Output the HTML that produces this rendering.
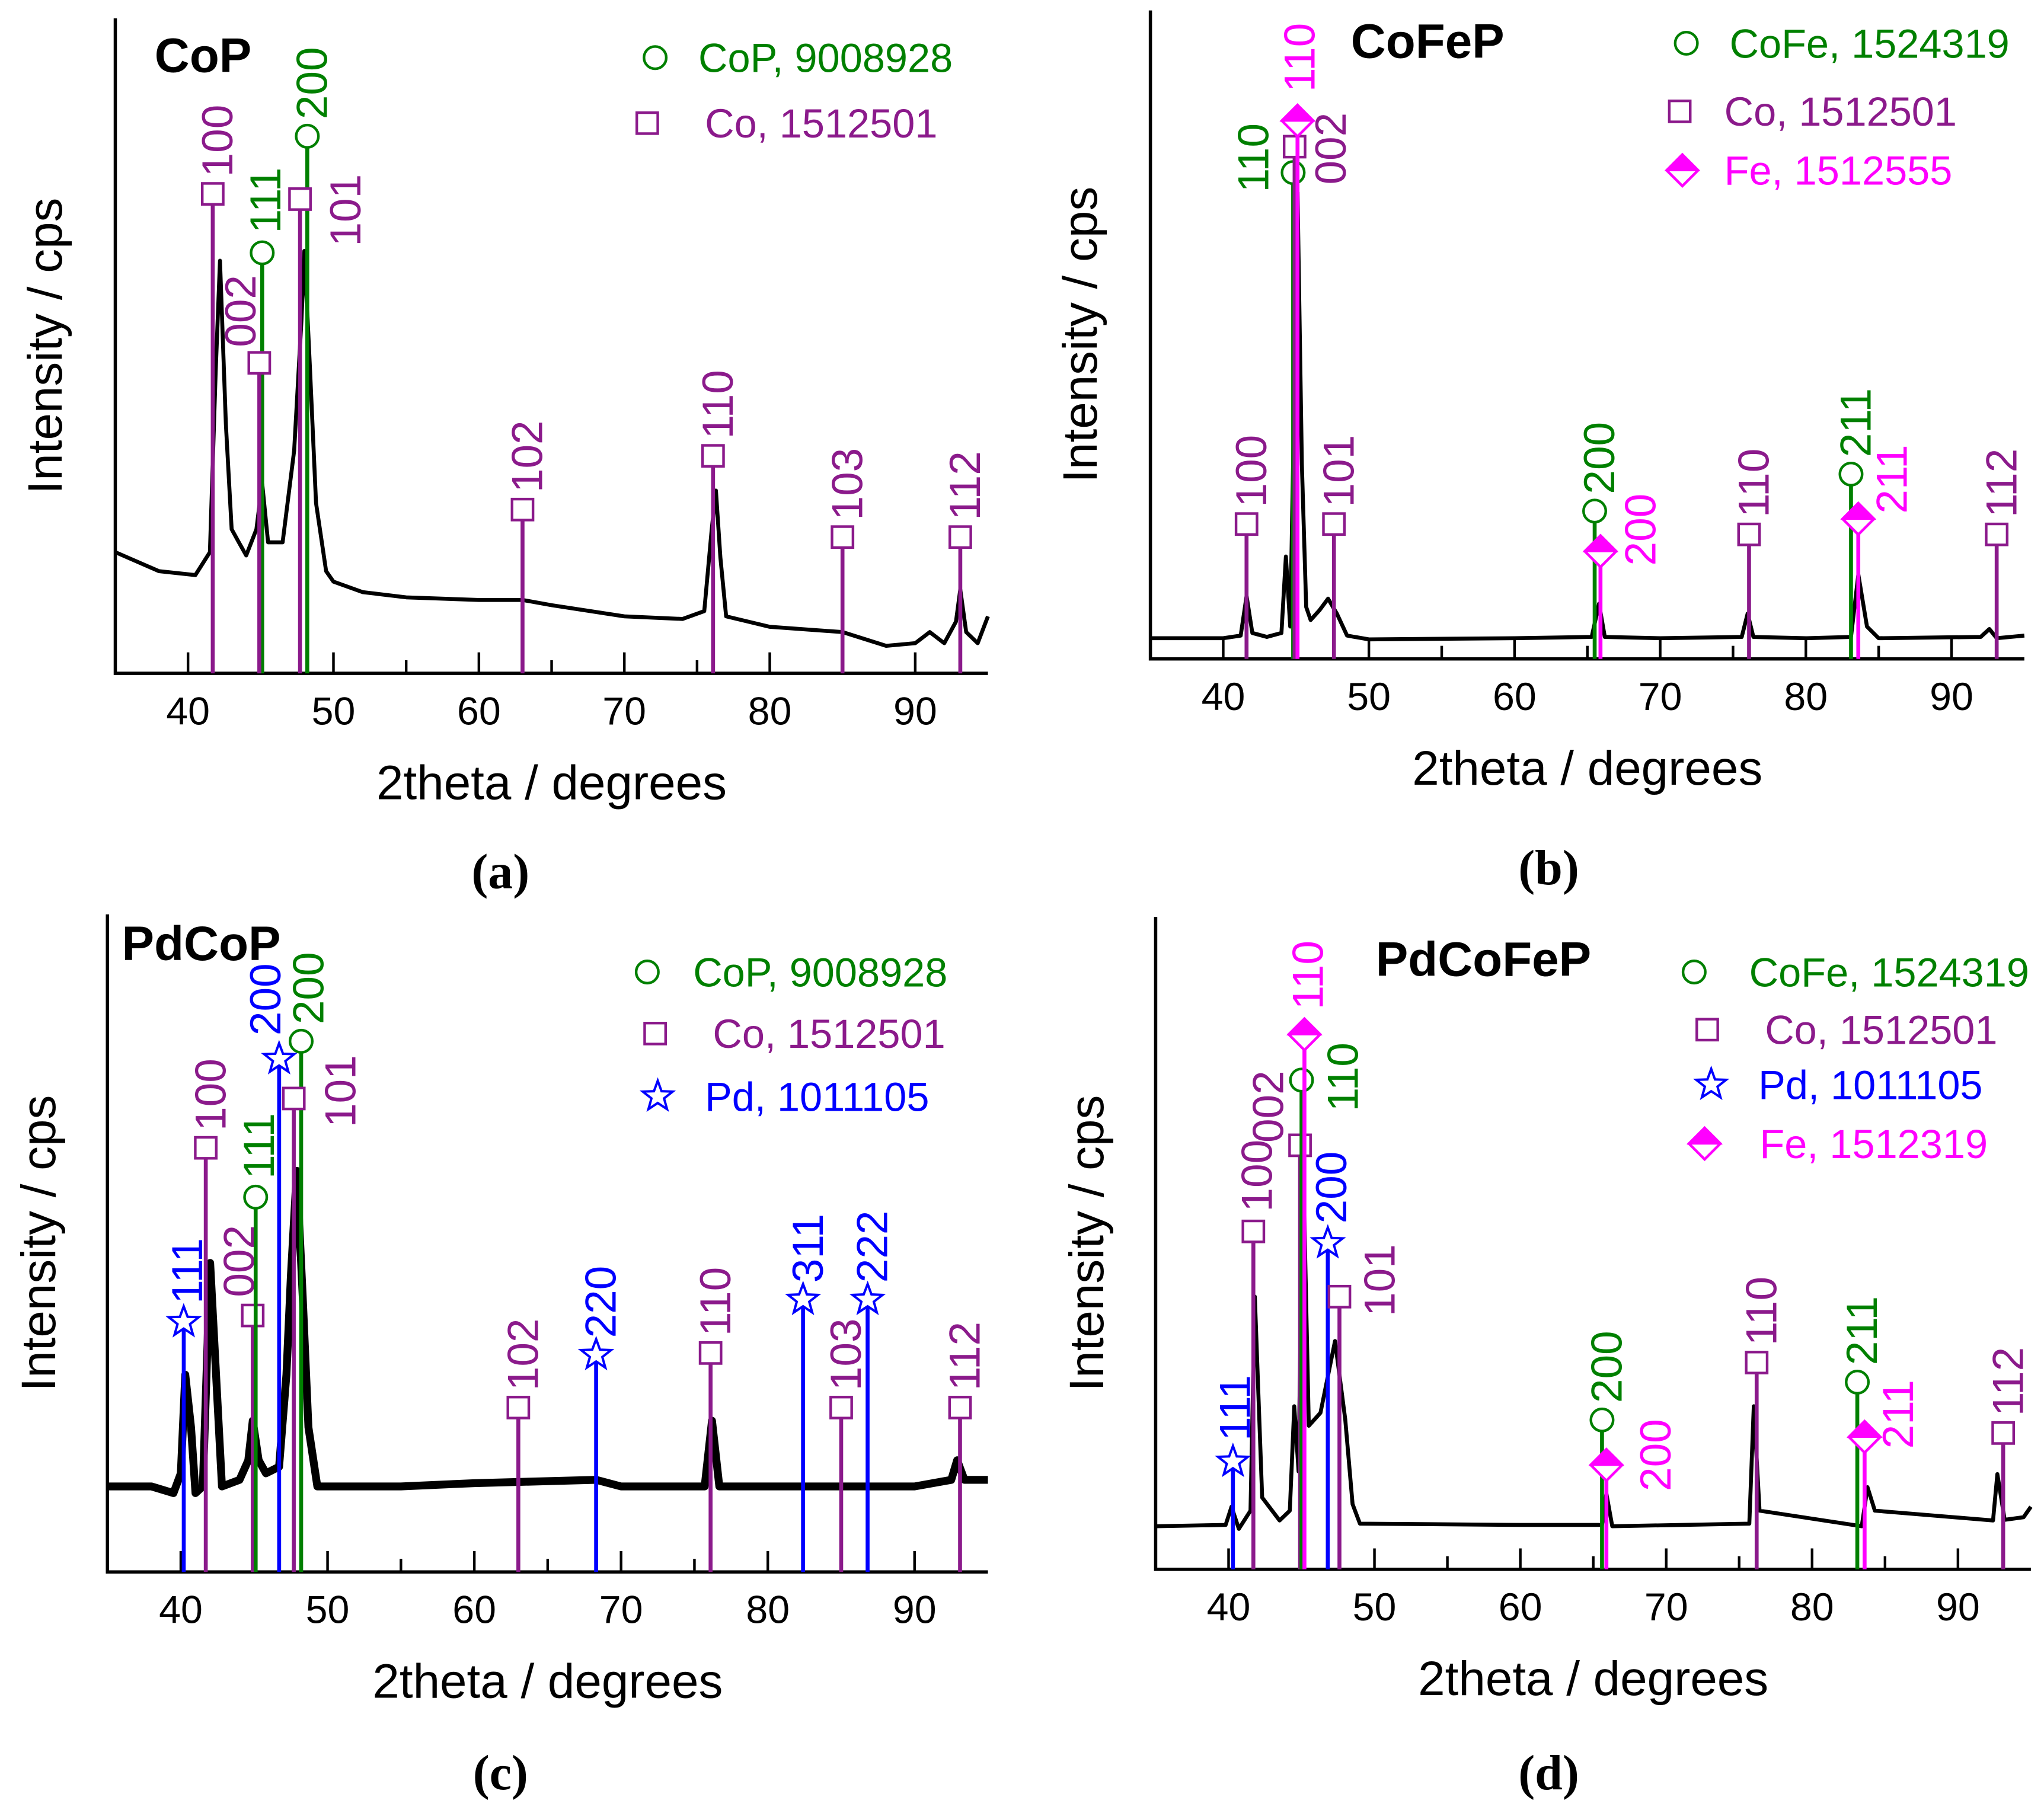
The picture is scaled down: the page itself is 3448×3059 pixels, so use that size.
<!DOCTYPE html>
<html><head><meta charset="utf-8"><style>
html,body{margin:0;padding:0;background:#fff;}
svg{display:block;}
text{font-family:"Liberation Sans",Arial,sans-serif;}
</style></head><body>
<svg id="fig" xmlns="http://www.w3.org/2000/svg" width="3448" height="3059" viewBox="0 0 1560 1384" preserveAspectRatio="none"></svg>
<script>
// ---- tick labels ----
const xTickLabels = [40, 50, 60, 70, 80, 90];
// ---- panel (a) CoP ----
const aCurveX = [35,38,40.5,41.5,41.9,42.2,42.6,43,43.5,44,44.7,45.1,45.5,46.5,47.3,47.8,48.0,48.4,48.8,49.5,50,52,55,60,63,65,70,74,75.5,76.0,76.3,76.6,77,80,85,88,90,91,92,92.8,93.1,93.5,94.3,95];
const aCurveY = [18.5,15.6,15,18.5,46,63,38,22,20,18,22,29,20,20,34,54,64.5,46,26,15.6,14,12.4,11.6,11.2,11.2,10.4,8.7,8.3,9.5,21.8,27.9,17.7,8.7,7.1,6.3,4.2,4.6,6.3,4.6,7.9,12.8,6.3,4.6,8.7];
const aStickPhase = ['co','cop','co','cop','co','co','co','co','co'];
const aStickPos = [41.7,45.1,44.9,48.2,47.7,63,76.1,85,93.1];
const aStickHeight = [73.2,64.2,47.4,82,72.4,25,33.2,20.8,20.8];
const aStickLabel = ['100','111','002','200','101','102','110','103','112'];
const aLabelDx = [3,2,-15,3,34,3,3,3,3];
const aLabelDy = [-13,-15,-12,-13,36,-13,-13,-13,-13];
// ---- panel (b) CoFeP ----
const bCurveX = [35,40,41.2,41.6,42,43,44,44.3,44.6,44.8,45.1,45.4,45.7,46,46.6,47.2,47.8,48.5,50,60,65.3,65.8,66.2,70,75.6,76.0,76.4,80,83.1,83.6,84.2,85,92,92.6,93.1,95];
const bCurveY = [3.2,3.2,3.6,9.7,4,3.4,4,15.8,5,30,72,30,8,6,7.5,9.3,7,3.6,3,3.2,3.4,8.5,3.4,3.2,3.4,7,3.4,3.2,3.4,13,5,3.2,3.4,4.6,3.2,3.6];
const bStickPhase = ['co','cofe','co','fe','co','cofe','fe','co','cofe','fe','co'];
const bStickPos = [41.6,44.8,44.9,45.1,47.6,65.5,65.9,76.1,83.1,83.6,93.1];
const bStickHeight = [20.8,75,79,83,20.8,22.8,16.6,19.2,28.5,21.6,19.2];
const bStickLabel = ['100','110','002','110','101','200','200','110','211','211','112'];
const bLabelDx = [3,-31,27,1,3,3,30,3,3,25,3];
const bLabelDy = [-13,15,29,-22,-13,-13,11,-13,-13,-4,-13];
// ---- panel (c) PdCoP ----
const cCurveX = [35,38,39.5,40,40.3,40.7,41,41.5,42.0,42.4,42.8,44,44.6,44.9,45.3,45.8,46.7,47.2,47.5,47.9,48.3,48.7,49.3,55,60,68.3,70,75.7,76.2,76.7,80,90,92.5,92.9,93.4,95];
const cCurveY = [13,13,12,15,30,22,12,13,47,30,13,14,17,23,17,15,16,30,45,61,42,22,13,13,13.5,14,13,13,23,13,13,13,14,17,14,14];
const cStickPhase = ['pd','co','co','cop','pd','cop','co','co','pd','co','pd','co','pd','co'];
const cStickPos = [40.2,41.7,44.9,45.1,46.7,48.2,47.7,63,68.3,76.1,82.4,85,86.8,93.1];
const cStickHeight = [38,64.5,39,57,78,80.7,72,25,33,33.3,41.4,25,41.4,25];
const cStickLabel = ['111','100','002','111','200','200','101','102','220','110','311','103','222','112'];
const cLabelDx = [2,3,-11,2,-11,5,35,3,3,3,3,3,3,3];
const cLabelDy = [-14,-13,-14,-14,-18,-13,22,-13,-13,-13,-13,-13,-13,-13];
// ---- panel (d) PdCoFeP ----
const dCurveX = [35,39.8,40.2,40.7,41.5,41.8,42.3,43.5,44.2,44.5,44.8,45.1,45.5,46.3,47.3,48,48.5,49,60,65.6,65.9,66.3,75.7,76.0,76.4,83.4,83.8,84.3,92.4,92.7,93.2,94.5,95];
const dCurveY = [6.6,6.8,9.6,6.2,9,41.8,11,7.5,9,25,15,64,22,24,35,23,10,7,6.8,6.8,11.6,6.6,7,25,9,6.6,12.6,9,7.5,14.6,7.6,8,9.6];
const dStickPhase = ['pd','co','co','cofe','fe','pd','co','cofe','fe','co','cofe','fe','co'];
const dStickPos = [40.3,41.7,44.9,45.0,45.2,46.8,47.6,65.6,65.9,76.2,83.1,83.6,93.1];
const dStickHeight = [16.5,51.8,65,75,82,50,41.8,22.9,16,31.7,28.7,20.3,20.9];
const dStickLabel = ['111','100','002','110','110','200','101','200','200','110','211','211','112'];
const dLabelDx = [1,2,-25,31,2,2,30,3,37,3,3,25,3];
const dLabelDy = [-16,-15,-2,24,-19,-15,15,-13,20,-13,-13,9,-13];

const NS = 'http://www.w3.org/2000/svg';
const svg = document.getElementById('fig');
const PHASES = {
  co:{color:'#8B1A8B', marker:'square'},
  cop:{color:'#008000', marker:'circle'},
  cofe:{color:'#008000', marker:'circle'},
  fe:{color:'#FF00FF', marker:'diamond'},
  pd:{color:'#0000FF', marker:'star'}
};
function el(tag, attrs, parent){
  const e = document.createElementNS(NS, tag);
  for (const k in attrs) e.setAttribute(k, attrs[k]);
  (parent||svg).appendChild(e);
  return e;
}
function drawMarker(g, type, cx, cy, color){
  let m;
  if (type==='square'){
    m = el('rect',{x:cx-8,y:cy-8,width:16,height:16,fill:'#fff',stroke:color,'stroke-width':2},g);
  } else if (type==='circle'){
    m = el('circle',{cx:cx,cy:cy,r:8.5,fill:'#fff',stroke:color,'stroke-width':2},g);
  } else if (type==='diamond'){
    m = el('g',{},g);
    el('polygon',{points:`${cx},${cy-12} ${cx+12},${cy} ${cx},${cy+12} ${cx-12},${cy}`,fill:'#fff',stroke:color,'stroke-width':2},m);
    el('polygon',{points:`${cx},${cy-12} ${cx+12},${cy} ${cx-12},${cy}`,fill:color,stroke:color,'stroke-width':1.5},m);
  } else {
    let pts=[];
    for (let i=0;i<10;i++){
      const r = i%2===0?12:5;
      const a = -Math.PI/2 + i*Math.PI/5;
      pts.push((cx+r*Math.cos(a)).toFixed(1)+','+(cy+r*Math.sin(a)).toFixed(1));
    }
    m = el('polygon',{points:pts.join(' '),fill:'#fff',stroke:color,'stroke-width':1.8},g);
  }
  return m;
}
function drawPanel(cfg, cx, cy, sPh, sPos, sH, sLab, sDx, sDy){
  const g = el('g',{});
  
  
  const xS = v => cfg.x0 + (v-35)/60*(cfg.x1-cfg.x0);
  const yS = v => cfg.yb - v/100*(cfg.yb-cfg.yt);
  const ax = el('path',{d:`M${cfg.x0},${cfg.yt} L${cfg.x0},${cfg.yb} L${cfg.x1},${cfg.yb}`,fill:'none',stroke:'#000','stroke-width':2.5},g);
  
  
  for (let t=40;t<=90;t+=5){
    const len = t%10===0?16:10;
    const tk = el('line',{x1:xS(t),x2:xS(t),y1:cfg.yb,y2:cfg.yb-len,stroke:'#000','stroke-width':2},g);
    
    
  }
  xTickLabels.forEach(t=>{
    const tl = el('text',{x:xS(t),y:cfg.yb+39,'font-size':30,'text-anchor':'middle',fill:'#000'},g);
    tl.textContent = t;
    
    
  });
  let d = '';
  cx.forEach((x,i)=>{ d += (i?'L':'M') + xS(x).toFixed(1) + ',' + yS(cy[i]).toFixed(1); });
  const cv = el('path',{d:d,fill:'none',stroke:'#000','stroke-width':cfg.cw,'stroke-linejoin':'round'},g);
  
  
  sPos.forEach((p,i)=>{
    const ph = PHASES[sPh[i]];
    const sx = xS(p), sy = yS(sH[i]);
    const sg = el('g',{},g);
    
    
    el('line',{x1:sx,x2:sx,y1:cfg.yb,y2:sy,stroke:ph.color,'stroke-width':3},sg);
    drawMarker(sg, ph.marker, sx, sy, ph.color);
    const lx = sx + sDx[i] + 12, ly = sy + sDy[i];
    const lt = el('text',{transform:`translate(${lx},${ly}) rotate(-90)`,'font-size':33,fill:ph.color},sg);
    lt.textContent = sLab[i];
    
    
  });
  cfg.legend.forEach(L=>{
    const lg = el('g',{},g);
    
    
    const ph = PHASES[L.ph];
    drawMarker(lg, ph.marker, L.mx, L.my, ph.color);
    const t = el('text',{x:L.tx,y:L.my+11,'font-size':31,fill:ph.color},lg);
    t.textContent = L.text;
  });
  const tt = el('text',{x:cfg.tx,y:cfg.ty,'font-size':37,'font-weight':'bold',fill:'#000'},g);
  tt.textContent = cfg.title;
  
  
  const yt = el('text',{transform:`translate(${cfg.ylx},${(cfg.yt+cfg.yb)/2}) rotate(-90)`,'font-size':37,'text-anchor':'middle',fill:'#000'},g);
  yt.textContent = 'Intensity / cps';
  
  
  const xt = el('text',{x:(cfg.x0+cfg.x1)/2,y:cfg.yb+96,'font-size':37,'text-anchor':'middle',fill:'#000'},g);
  xt.textContent = '2theta / degrees';
  
  
  const pl = el('text',{x:cfg.plx,y:cfg.ply,'font-size':38,'text-anchor':'middle',fill:'#000',style:'font-family:"Liberation Serif",serif;font-weight:bold'},g);
  pl.textContent = cfg.panel;
  
  
}
drawPanel({name:'panel-a-cop',x0:88,x1:754,yt:14,yb:514,cw:3,title:'CoP',tx:118,ty:55,ylx:47,panel:'(a)',plx:382,ply:678,
  legend:[{ph:'cop',mx:500,my:44,tx:533,text:'CoP, 9008928'},{ph:'co',mx:494,my:94,tx:538,text:'Co, 1512501'}]},
  aCurveX,aCurveY,aStickPhase,aStickPos,aStickHeight,aStickLabel,aLabelDx,aLabelDy);
drawPanel({name:'panel-b-cofep',x0:878,x1:1545,yt:8,yb:503,cw:3,title:'CoFeP',tx:1031,ty:44,ylx:837,panel:'(b)',plx:1182,ply:675,
  legend:[{ph:'cofe',mx:1287,my:33,tx:1320,text:'CoFe, 1524319'},{ph:'co',mx:1282,my:85,tx:1316,text:'Co, 1512501'},{ph:'fe',mx:1284,my:130,tx:1316,text:'Fe, 1512555'}]},
  bCurveX,bCurveY,bStickPhase,bStickPos,bStickHeight,bStickLabel,bLabelDx,bLabelDy);
drawPanel({name:'panel-c-pdcop',x0:82,x1:754,yt:698,yb:1200,cw:6,title:'PdCoP',tx:93,ty:733,ylx:42,panel:'(c)',plx:382,ply:1366,
  legend:[{ph:'cop',mx:494,my:742,tx:529,text:'CoP, 9008928'},{ph:'co',mx:500,my:789,tx:544,text:'Co, 1512501'},{ph:'pd',mx:502,my:837,tx:538,text:'Pd, 1011105'}]},
  cCurveX,cCurveY,cStickPhase,cStickPos,cStickHeight,cStickLabel,cLabelDx,cLabelDy);
drawPanel({name:'panel-d-pdcofep',x0:882,x1:1550,yt:700,yb:1198,cw:3,title:'PdCoFeP',tx:1050,ty:745,ylx:842,panel:'(d)',plx:1182,ply:1366,
  legend:[{ph:'cofe',mx:1293,my:742,tx:1335,text:'CoFe, 1524319'},{ph:'co',mx:1303,my:786,tx:1347,text:'Co, 1512501'},{ph:'pd',mx:1306,my:828,tx:1342,text:'Pd, 1011105'},{ph:'fe',mx:1301,my:873,tx:1343,text:'Fe, 1512319'}]},
  dCurveX,dCurveY,dStickPhase,dStickPos,dStickHeight,dStickLabel,dLabelDx,dLabelDy);
</script>
</body></html>
